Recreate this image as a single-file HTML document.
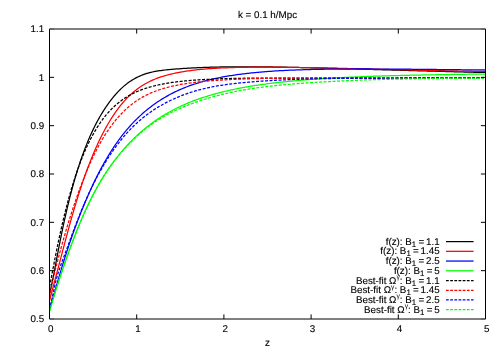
<!DOCTYPE html>
<html><head><meta charset="utf-8"><title>plot</title>
<style>
html,body{margin:0;padding:0;background:#fff;}
body{width:500px;height:350px;overflow:hidden;}
svg{display:block;will-change:transform;}
text{font-family:"Liberation Sans",sans-serif;font-size:9.8px;fill:#000;text-rendering:geometricPrecision;stroke:#000;stroke-width:0.12px;}
.sub{font-size:7.84px;}
.sup{font-size:6.8px;stroke:none;}
</style></head><body>
<svg width="500" height="350" viewBox="0 0 500 350">
<rect width="500" height="350" fill="#fff"/>

<g fill="none" stroke-width="1.25" stroke-linejoin="round">
<path d="M49.50,294.41 L50.09,292.04 L50.68,289.48 L51.28,286.75 L51.87,283.90 L52.46,280.95 L53.05,277.93 L53.65,274.86 L54.24,271.76 L54.83,268.63 L55.42,265.49 L56.02,262.35 L56.61,259.22 L57.20,256.10 L57.79,253.00 L58.39,249.92 L58.98,246.87 L59.57,243.85 L60.16,240.86 L60.76,237.91 L61.35,234.99 L61.94,232.10 L62.53,229.26 L63.13,226.45 L63.72,223.69 L64.31,220.96 L64.90,218.27 L65.50,215.63 L66.09,213.02 L66.68,210.45 L67.27,207.92 L67.87,205.44 L68.46,202.99 L69.05,200.58 L69.64,198.21 L70.24,195.87 L70.83,193.58 L71.42,191.32 L72.01,189.09 L72.61,186.91 L73.20,184.76 L73.79,182.64 L74.38,180.56 L74.97,178.51 L75.57,176.50 L76.16,174.52 L76.75,172.57 L77.34,170.65 L77.94,168.76 L78.53,166.91 L79.12,165.08 L79.71,163.29 L80.31,161.52 L80.90,159.79 L81.49,158.08 L82.08,156.40 L82.68,154.74 L83.27,153.11 L83.86,151.51 L84.45,149.94 L85.05,148.39 L85.64,146.86 L86.23,145.36 L86.82,143.89 L87.42,142.44 L88.01,141.01 L88.60,139.60 L89.19,138.22 L89.79,136.86 L90.38,135.52 L90.97,134.20 L91.56,132.91 L92.16,131.63 L92.75,130.37 L93.34,129.14 L93.93,127.92 L94.53,126.73 L95.12,125.55 L95.71,124.39 L96.30,123.25 L96.89,122.13 L97.49,121.03 L98.08,119.94 L98.67,118.87 L99.26,117.82 L99.86,116.78 L100.45,115.76 L101.04,114.76 L101.63,113.77 L102.23,112.80 L102.82,111.84 L103.41,110.89 L104.00,109.96 L104.60,109.05 L105.19,108.15 L105.78,107.26 L106.37,106.39 L106.97,105.53 L107.56,104.68 L108.15,103.85 L108.74,103.03 L109.34,102.22 L109.93,101.42 L110.52,100.64 L111.11,99.87 L111.71,99.11 L112.30,98.36 L112.89,97.62 L113.48,96.90 L114.08,96.19 L114.67,95.49 L115.26,94.81 L115.85,94.13 L116.45,93.47 L117.04,92.82 L117.63,92.18 L118.22,91.56 L118.82,90.94 L119.41,90.34 L120.00,89.75 L121.41,88.40 L122.82,87.11 L124.23,85.89 L125.64,84.72 L127.06,83.62 L128.47,82.58 L129.88,81.59 L131.29,80.65 L132.70,79.77 L134.11,78.93 L135.52,78.15 L136.93,77.41 L138.35,76.72 L139.76,76.07 L141.17,75.47 L142.58,74.90 L143.99,74.38 L145.40,73.90 L146.81,73.45 L148.22,73.04 L149.64,72.66 L151.05,72.31 L152.46,71.99 L153.87,71.69 L155.28,71.42 L156.69,71.17 L158.10,70.93 L159.51,70.72 L160.92,70.52 L162.34,70.33 L163.75,70.16 L165.16,70.00 L166.57,69.84 L167.98,69.70 L169.39,69.57 L170.80,69.44 L172.21,69.32 L173.63,69.20 L175.04,69.09 L176.45,68.98 L177.86,68.88 L179.27,68.78 L180.68,68.68 L182.09,68.58 L183.50,68.49 L184.92,68.40 L186.33,68.31 L187.74,68.23 L189.15,68.15 L190.56,68.07 L191.97,67.99 L193.38,67.92 L194.79,67.85 L196.20,67.78 L197.62,67.72 L199.03,67.65 L200.44,67.59 L201.85,67.53 L203.26,67.48 L204.67,67.43 L206.08,67.37 L207.49,67.33 L208.91,67.28 L210.32,67.24 L211.73,67.19 L213.14,67.15 L214.55,67.12 L215.96,67.08 L217.37,67.05 L218.78,67.02 L220.19,66.99 L221.61,66.96 L223.02,66.93 L224.43,66.91 L225.84,66.89 L227.25,66.87 L228.66,66.85 L230.07,66.83 L231.48,66.82 L232.90,66.80 L234.31,66.79 L235.72,66.78 L237.13,66.77 L238.54,66.77 L239.95,66.76 L241.36,66.76 L242.77,66.76 L244.19,66.76 L245.60,66.76 L247.01,66.76 L248.42,66.76 L249.83,66.77 L251.24,66.78 L252.65,66.78 L254.06,66.79 L255.47,66.80 L256.89,66.81 L258.30,66.82 L259.71,66.84 L261.12,66.85 L262.53,66.86 L263.94,66.88 L265.35,66.90 L266.76,66.91 L268.18,66.93 L269.59,66.95 L271.00,66.97 L272.41,66.99 L273.82,67.01 L275.23,67.04 L276.64,67.06 L278.05,67.08 L279.47,67.11 L280.88,67.13 L282.29,67.16 L283.70,67.18 L285.11,67.21 L286.52,67.24 L287.93,67.26 L289.34,67.29 L290.75,67.32 L292.17,67.35 L293.58,67.38 L294.99,67.41 L296.40,67.44 L297.81,67.47 L299.22,67.50 L300.63,67.54 L302.04,67.57 L303.46,67.60 L304.87,67.64 L306.28,67.67 L307.69,67.70 L309.10,67.74 L310.51,67.77 L311.92,67.81 L313.33,67.84 L314.75,67.88 L316.16,67.91 L317.57,67.95 L318.98,67.99 L320.39,68.02 L321.80,68.06 L323.21,68.10 L324.62,68.13 L326.03,68.17 L327.45,68.21 L328.86,68.25 L330.27,68.28 L331.68,68.32 L333.09,68.36 L334.50,68.40 L335.91,68.44 L337.32,68.48 L338.74,68.52 L340.15,68.56 L341.56,68.59 L342.97,68.63 L344.38,68.67 L345.79,68.71 L347.20,68.75 L348.61,68.79 L350.03,68.83 L351.44,68.87 L352.85,68.91 L354.26,68.95 L355.67,68.99 L357.08,69.03 L358.49,69.07 L359.90,69.11 L361.31,69.15 L362.73,69.19 L364.14,69.23 L365.55,69.27 L366.96,69.32 L368.37,69.36 L369.78,69.40 L371.19,69.44 L372.60,69.48 L374.02,69.52 L375.43,69.56 L376.84,69.60 L378.25,69.64 L379.66,69.68 L381.07,69.72 L382.48,69.76 L383.89,69.80 L385.31,69.84 L386.72,69.88 L388.13,69.92 L389.54,69.96 L390.95,70.00 L392.36,70.05 L393.77,70.09 L395.18,70.13 L396.59,70.17 L398.01,70.21 L399.42,70.25 L400.83,70.29 L402.24,70.33 L403.65,70.37 L405.06,70.41 L406.47,70.45 L407.88,70.49 L409.30,70.53 L410.71,70.57 L412.12,70.61 L413.53,70.65 L414.94,70.68 L416.35,70.72 L417.76,70.76 L419.17,70.80 L420.58,70.84 L422.00,70.88 L423.41,70.92 L424.82,70.96 L426.23,71.00 L427.64,71.04 L429.05,71.08 L430.46,71.11 L431.87,71.15 L433.29,71.19 L434.70,71.23 L436.11,71.27 L437.52,71.31 L438.93,71.34 L440.34,71.38 L441.75,71.42 L443.16,71.46 L444.58,71.50 L445.99,71.53 L447.40,71.57 L448.81,71.61 L450.22,71.64 L451.63,71.68 L453.04,71.72 L454.45,71.76 L455.86,71.79 L457.28,71.83 L458.69,71.87 L460.10,71.90 L461.51,71.94 L462.92,71.97 L464.33,72.01 L465.74,72.05 L467.15,72.08 L468.57,72.12 L469.98,72.15 L471.39,72.19 L472.80,72.22 L474.21,72.26 L475.62,72.30 L477.03,72.33 L478.44,72.37 L479.86,72.40 L481.27,72.43 L482.68,72.47 L484.09,72.50 L485.50,72.54" stroke="#000"/>
<path d="M49.50,300.95 L50.09,298.69 L50.68,296.43 L51.28,294.19 L51.87,291.94 L52.46,289.70 L53.05,287.45 L53.65,285.21 L54.24,282.96 L54.83,280.71 L55.42,278.47 L56.02,276.22 L56.61,273.96 L57.20,271.71 L57.79,269.46 L58.39,267.20 L58.98,264.95 L59.57,262.69 L60.16,260.43 L60.76,258.18 L61.35,255.92 L61.94,253.67 L62.53,251.41 L63.13,249.16 L63.72,246.91 L64.31,244.66 L64.90,242.42 L65.50,240.18 L66.09,237.96 L66.68,235.74 L67.27,233.54 L67.87,231.34 L68.46,229.16 L69.05,227.00 L69.64,224.85 L70.24,222.72 L70.83,220.60 L71.42,218.51 L72.01,216.42 L72.61,214.36 L73.20,212.32 L73.79,210.29 L74.38,208.28 L74.97,206.29 L75.57,204.32 L76.16,202.37 L76.75,200.44 L77.34,198.53 L77.94,196.63 L78.53,194.76 L79.12,192.90 L79.71,191.06 L80.31,189.24 L80.90,187.44 L81.49,185.66 L82.08,183.90 L82.68,182.15 L83.27,180.42 L83.86,178.72 L84.45,177.02 L85.05,175.35 L85.64,173.70 L86.23,172.06 L86.82,170.44 L87.42,168.84 L88.01,167.26 L88.60,165.70 L89.19,164.15 L89.79,162.63 L90.38,161.12 L90.97,159.63 L91.56,158.15 L92.16,156.70 L92.75,155.26 L93.34,153.84 L93.93,152.44 L94.53,151.06 L95.12,149.69 L95.71,148.34 L96.30,147.01 L96.89,145.69 L97.49,144.39 L98.08,143.11 L98.67,141.84 L99.26,140.59 L99.86,139.36 L100.45,138.14 L101.04,136.94 L101.63,135.76 L102.23,134.59 L102.82,133.44 L103.41,132.30 L104.00,131.17 L104.60,130.07 L105.19,128.97 L105.78,127.90 L106.37,126.83 L106.97,125.78 L107.56,124.75 L108.15,123.73 L108.74,122.73 L109.34,121.73 L109.93,120.76 L110.52,119.79 L111.11,118.84 L111.71,117.91 L112.30,116.99 L112.89,116.08 L113.48,115.18 L114.08,114.30 L114.67,113.43 L115.26,112.57 L115.85,111.73 L116.45,110.90 L117.04,110.08 L117.63,109.28 L118.22,108.49 L118.82,107.71 L119.41,106.94 L120.00,106.19 L121.41,104.44 L122.82,102.75 L124.23,101.14 L125.64,99.59 L127.06,98.10 L128.47,96.67 L129.88,95.30 L131.29,93.99 L132.70,92.74 L134.11,91.54 L135.52,90.40 L136.93,89.30 L138.35,88.26 L139.76,87.26 L141.17,86.32 L142.58,85.41 L143.99,84.55 L145.40,83.73 L146.81,82.95 L148.22,82.21 L149.64,81.51 L151.05,80.83 L152.46,80.19 L153.87,79.58 L155.28,79.00 L156.69,78.45 L158.10,77.93 L159.51,77.42 L160.92,76.94 L162.34,76.49 L163.75,76.05 L165.16,75.63 L166.57,75.24 L167.98,74.86 L169.39,74.49 L170.80,74.15 L172.21,73.81 L173.63,73.49 L175.04,73.19 L176.45,72.90 L177.86,72.62 L179.27,72.35 L180.68,72.09 L182.09,71.84 L183.50,71.61 L184.92,71.38 L186.33,71.17 L187.74,70.96 L189.15,70.76 L190.56,70.57 L191.97,70.39 L193.38,70.21 L194.79,70.05 L196.20,69.89 L197.62,69.74 L199.03,69.59 L200.44,69.45 L201.85,69.32 L203.26,69.19 L204.67,69.07 L206.08,68.96 L207.49,68.84 L208.91,68.74 L210.32,68.64 L211.73,68.54 L213.14,68.45 L214.55,68.37 L215.96,68.28 L217.37,68.21 L218.78,68.13 L220.19,68.06 L221.61,67.99 L223.02,67.93 L224.43,67.87 L225.84,67.81 L227.25,67.76 L228.66,67.70 L230.07,67.66 L231.48,67.61 L232.90,67.57 L234.31,67.53 L235.72,67.49 L237.13,67.45 L238.54,67.42 L239.95,67.39 L241.36,67.36 L242.77,67.33 L244.19,67.31 L245.60,67.29 L247.01,67.27 L248.42,67.25 L249.83,67.23 L251.24,67.22 L252.65,67.20 L254.06,67.19 L255.47,67.18 L256.89,67.18 L258.30,67.17 L259.71,67.16 L261.12,67.16 L262.53,67.16 L263.94,67.16 L265.35,67.16 L266.76,67.16 L268.18,67.16 L269.59,67.17 L271.00,67.17 L272.41,67.18 L273.82,67.19 L275.23,67.20 L276.64,67.21 L278.05,67.22 L279.47,67.23 L280.88,67.24 L282.29,67.26 L283.70,67.27 L285.11,67.29 L286.52,67.30 L287.93,67.32 L289.34,67.34 L290.75,67.36 L292.17,67.38 L293.58,67.40 L294.99,67.42 L296.40,67.44 L297.81,67.46 L299.22,67.48 L300.63,67.50 L302.04,67.53 L303.46,67.55 L304.87,67.58 L306.28,67.60 L307.69,67.63 L309.10,67.65 L310.51,67.68 L311.92,67.71 L313.33,67.74 L314.75,67.76 L316.16,67.79 L317.57,67.82 L318.98,67.85 L320.39,67.88 L321.80,67.91 L323.21,67.94 L324.62,67.97 L326.03,68.00 L327.45,68.03 L328.86,68.06 L330.27,68.09 L331.68,68.12 L333.09,68.16 L334.50,68.19 L335.91,68.22 L337.32,68.25 L338.74,68.28 L340.15,68.32 L341.56,68.35 L342.97,68.38 L344.38,68.42 L345.79,68.45 L347.20,68.48 L348.61,68.52 L350.03,68.55 L351.44,68.58 L352.85,68.62 L354.26,68.65 L355.67,68.69 L357.08,68.72 L358.49,68.75 L359.90,68.79 L361.31,68.82 L362.73,68.86 L364.14,68.89 L365.55,68.92 L366.96,68.96 L368.37,68.99 L369.78,69.03 L371.19,69.06 L372.60,69.10 L374.02,69.13 L375.43,69.16 L376.84,69.20 L378.25,69.23 L379.66,69.27 L381.07,69.30 L382.48,69.33 L383.89,69.37 L385.31,69.40 L386.72,69.44 L388.13,69.47 L389.54,69.50 L390.95,69.54 L392.36,69.57 L393.77,69.60 L395.18,69.64 L396.59,69.67 L398.01,69.70 L399.42,69.74 L400.83,69.77 L402.24,69.80 L403.65,69.84 L405.06,69.87 L406.47,69.90 L407.88,69.93 L409.30,69.97 L410.71,70.00 L412.12,70.03 L413.53,70.06 L414.94,70.09 L416.35,70.13 L417.76,70.16 L419.17,70.19 L420.58,70.22 L422.00,70.25 L423.41,70.28 L424.82,70.31 L426.23,70.34 L427.64,70.38 L429.05,70.41 L430.46,70.44 L431.87,70.47 L433.29,70.50 L434.70,70.53 L436.11,70.56 L437.52,70.59 L438.93,70.61 L440.34,70.64 L441.75,70.67 L443.16,70.70 L444.58,70.73 L445.99,70.76 L447.40,70.79 L448.81,70.82 L450.22,70.84 L451.63,70.87 L453.04,70.90 L454.45,70.93 L455.86,70.95 L457.28,70.98 L458.69,71.01 L460.10,71.03 L461.51,71.06 L462.92,71.09 L464.33,71.11 L465.74,71.14 L467.15,71.17 L468.57,71.19 L469.98,71.22 L471.39,71.24 L472.80,71.27 L474.21,71.29 L475.62,71.32 L477.03,71.34 L478.44,71.36 L479.86,71.39 L481.27,71.41 L482.68,71.44 L484.09,71.46 L485.50,71.48" stroke="#f00"/>
<path d="M49.50,308.99 L50.09,307.20 L50.68,305.34 L51.28,303.42 L51.87,301.47 L52.46,299.48 L53.05,297.47 L53.65,295.44 L54.24,293.40 L54.83,291.35 L55.42,289.30 L56.02,287.25 L56.61,285.20 L57.20,283.16 L57.79,281.12 L58.39,279.09 L58.98,277.07 L59.57,275.07 L60.16,273.07 L60.76,271.09 L61.35,269.12 L61.94,267.17 L62.53,265.23 L63.13,263.30 L63.72,261.39 L64.31,259.50 L64.90,257.62 L65.50,255.76 L66.09,253.91 L66.68,252.08 L67.27,250.26 L67.87,248.46 L68.46,246.68 L69.05,244.91 L69.64,243.15 L70.24,241.42 L70.83,239.69 L71.42,237.98 L72.01,236.29 L72.61,234.61 L73.20,232.94 L73.79,231.29 L74.38,229.66 L74.97,228.04 L75.57,226.43 L76.16,224.83 L76.75,223.25 L77.34,221.68 L77.94,220.13 L78.53,218.59 L79.12,217.06 L79.71,215.54 L80.31,214.04 L80.90,212.55 L81.49,211.07 L82.08,209.60 L82.68,208.15 L83.27,206.70 L83.86,205.27 L84.45,203.85 L85.05,202.44 L85.64,201.04 L86.23,199.65 L86.82,198.28 L87.42,196.91 L88.01,195.55 L88.60,194.21 L89.19,192.87 L89.79,191.55 L90.38,190.24 L90.97,188.94 L91.56,187.65 L92.16,186.37 L92.75,185.10 L93.34,183.84 L93.93,182.60 L94.53,181.36 L95.12,180.14 L95.71,178.93 L96.30,177.73 L96.89,176.54 L97.49,175.36 L98.08,174.19 L98.67,173.04 L99.26,171.89 L99.86,170.76 L100.45,169.64 L101.04,168.52 L101.63,167.42 L102.23,166.33 L102.82,165.25 L103.41,164.19 L104.00,163.13 L104.60,162.08 L105.19,161.04 L105.78,160.02 L106.37,159.00 L106.97,158.00 L107.56,157.00 L108.15,156.01 L108.74,155.04 L109.34,154.07 L109.93,153.12 L110.52,152.17 L111.11,151.24 L111.71,150.31 L112.30,149.40 L112.89,148.49 L113.48,147.59 L114.08,146.70 L114.67,145.83 L115.26,144.96 L115.85,144.10 L116.45,143.25 L117.04,142.40 L117.63,141.57 L118.22,140.75 L118.82,139.93 L119.41,139.13 L120.00,138.33 L121.41,136.46 L122.82,134.64 L124.23,132.87 L125.64,131.15 L127.06,129.47 L128.47,127.83 L129.88,126.23 L131.29,124.68 L132.70,123.16 L134.11,121.68 L135.52,120.25 L136.93,118.84 L138.35,117.48 L139.76,116.14 L141.17,114.84 L142.58,113.58 L143.99,112.34 L145.40,111.14 L146.81,109.97 L148.22,108.83 L149.64,107.71 L151.05,106.63 L152.46,105.57 L153.87,104.54 L155.28,103.53 L156.69,102.55 L158.10,101.60 L159.51,100.67 L160.92,99.76 L162.34,98.88 L163.75,98.02 L165.16,97.19 L166.57,96.37 L167.98,95.58 L169.39,94.80 L170.80,94.05 L172.21,93.32 L173.63,92.61 L175.04,91.91 L176.45,91.24 L177.86,90.58 L179.27,89.94 L180.68,89.32 L182.09,88.72 L183.50,88.13 L184.92,87.56 L186.33,87.00 L187.74,86.47 L189.15,85.94 L190.56,85.43 L191.97,84.94 L193.38,84.46 L194.79,83.99 L196.20,83.54 L197.62,83.10 L199.03,82.67 L200.44,82.25 L201.85,81.85 L203.26,81.45 L204.67,81.07 L206.08,80.70 L207.49,80.34 L208.91,79.99 L210.32,79.64 L211.73,79.31 L213.14,78.99 L214.55,78.67 L215.96,78.37 L217.37,78.07 L218.78,77.78 L220.19,77.50 L221.61,77.23 L223.02,76.96 L224.43,76.70 L225.84,76.45 L227.25,76.21 L228.66,75.97 L230.07,75.74 L231.48,75.51 L232.90,75.30 L234.31,75.08 L235.72,74.88 L237.13,74.68 L238.54,74.48 L239.95,74.29 L241.36,74.11 L242.77,73.93 L244.19,73.76 L245.60,73.59 L247.01,73.43 L248.42,73.27 L249.83,73.11 L251.24,72.96 L252.65,72.82 L254.06,72.68 L255.47,72.54 L256.89,72.40 L258.30,72.27 L259.71,72.15 L261.12,72.03 L262.53,71.91 L263.94,71.79 L265.35,71.68 L266.76,71.57 L268.18,71.47 L269.59,71.37 L271.00,71.27 L272.41,71.18 L273.82,71.08 L275.23,70.99 L276.64,70.91 L278.05,70.82 L279.47,70.74 L280.88,70.66 L282.29,70.59 L283.70,70.51 L285.11,70.44 L286.52,70.37 L287.93,70.31 L289.34,70.24 L290.75,70.18 L292.17,70.12 L293.58,70.06 L294.99,70.01 L296.40,69.95 L297.81,69.90 L299.22,69.85 L300.63,69.80 L302.04,69.76 L303.46,69.71 L304.87,69.67 L306.28,69.63 L307.69,69.59 L309.10,69.55 L310.51,69.52 L311.92,69.48 L313.33,69.45 L314.75,69.42 L316.16,69.39 L317.57,69.36 L318.98,69.33 L320.39,69.30 L321.80,69.28 L323.21,69.26 L324.62,69.23 L326.03,69.21 L327.45,69.19 L328.86,69.17 L330.27,69.15 L331.68,69.14 L333.09,69.12 L334.50,69.11 L335.91,69.09 L337.32,69.08 L338.74,69.07 L340.15,69.05 L341.56,69.04 L342.97,69.03 L344.38,69.03 L345.79,69.02 L347.20,69.01 L348.61,69.01 L350.03,69.00 L351.44,68.99 L352.85,68.99 L354.26,68.99 L355.67,68.98 L357.08,68.98 L358.49,68.98 L359.90,68.98 L361.31,68.98 L362.73,68.98 L364.14,68.98 L365.55,68.98 L366.96,68.99 L368.37,68.99 L369.78,68.99 L371.19,68.99 L372.60,69.00 L374.02,69.00 L375.43,69.01 L376.84,69.01 L378.25,69.02 L379.66,69.03 L381.07,69.03 L382.48,69.04 L383.89,69.05 L385.31,69.05 L386.72,69.06 L388.13,69.07 L389.54,69.08 L390.95,69.09 L392.36,69.10 L393.77,69.11 L395.18,69.12 L396.59,69.13 L398.01,69.14 L399.42,69.15 L400.83,69.16 L402.24,69.17 L403.65,69.18 L405.06,69.19 L406.47,69.21 L407.88,69.22 L409.30,69.23 L410.71,69.24 L412.12,69.26 L413.53,69.27 L414.94,69.28 L416.35,69.29 L417.76,69.31 L419.17,69.32 L420.58,69.33 L422.00,69.35 L423.41,69.36 L424.82,69.37 L426.23,69.39 L427.64,69.40 L429.05,69.42 L430.46,69.43 L431.87,69.44 L433.29,69.46 L434.70,69.47 L436.11,69.49 L437.52,69.50 L438.93,69.52 L440.34,69.53 L441.75,69.55 L443.16,69.56 L444.58,69.57 L445.99,69.59 L447.40,69.60 L448.81,69.62 L450.22,69.63 L451.63,69.65 L453.04,69.66 L454.45,69.68 L455.86,69.69 L457.28,69.70 L458.69,69.72 L460.10,69.73 L461.51,69.75 L462.92,69.76 L464.33,69.78 L465.74,69.79 L467.15,69.81 L468.57,69.82 L469.98,69.83 L471.39,69.85 L472.80,69.86 L474.21,69.88 L475.62,69.89 L477.03,69.90 L478.44,69.92 L479.86,69.93 L481.27,69.94 L482.68,69.96 L484.09,69.97 L485.50,69.98" stroke="#00f"/>
<path d="M49.50,311.40 L50.09,309.34 L50.68,307.30 L51.28,305.27 L51.87,303.27 L52.46,301.28 L53.05,299.31 L53.65,297.35 L54.24,295.41 L54.83,293.49 L55.42,291.58 L56.02,289.68 L56.61,287.80 L57.20,285.94 L57.79,284.08 L58.39,282.24 L58.98,280.42 L59.57,278.60 L60.16,276.80 L60.76,275.01 L61.35,273.23 L61.94,271.47 L62.53,269.71 L63.13,267.97 L63.72,266.23 L64.31,264.51 L64.90,262.80 L65.50,261.10 L66.09,259.41 L66.68,257.73 L67.27,256.06 L67.87,254.40 L68.46,252.75 L69.05,251.11 L69.64,249.48 L70.24,247.86 L70.83,246.24 L71.42,244.64 L72.01,243.05 L72.61,241.48 L73.20,239.91 L73.79,238.36 L74.38,236.81 L74.97,235.28 L75.57,233.77 L76.16,232.27 L76.75,230.78 L77.34,229.30 L77.94,227.84 L78.53,226.39 L79.12,224.95 L79.71,223.53 L80.31,222.12 L80.90,220.72 L81.49,219.34 L82.08,217.97 L82.68,216.61 L83.27,215.27 L83.86,213.94 L84.45,212.62 L85.05,211.32 L85.64,210.03 L86.23,208.75 L86.82,207.49 L87.42,206.23 L88.01,204.99 L88.60,203.77 L89.19,202.55 L89.79,201.35 L90.38,200.16 L90.97,198.98 L91.56,197.81 L92.16,196.66 L92.75,195.52 L93.34,194.38 L93.93,193.26 L94.53,192.16 L95.12,191.06 L95.71,189.97 L96.30,188.90 L96.89,187.83 L97.49,186.78 L98.08,185.73 L98.67,184.70 L99.26,183.68 L99.86,182.67 L100.45,181.67 L101.04,180.67 L101.63,179.69 L102.23,178.72 L102.82,177.76 L103.41,176.81 L104.00,175.86 L104.60,174.93 L105.19,174.00 L105.78,173.09 L106.37,172.18 L106.97,171.29 L107.56,170.40 L108.15,169.52 L108.74,168.65 L109.34,167.79 L109.93,166.93 L110.52,166.09 L111.11,165.25 L111.71,164.42 L112.30,163.60 L112.89,162.79 L113.48,161.99 L114.08,161.19 L114.67,160.40 L115.26,159.62 L115.85,158.85 L116.45,158.08 L117.04,157.32 L117.63,156.57 L118.22,155.83 L118.82,155.09 L119.41,154.36 L120.00,153.64 L121.41,151.94 L122.82,150.28 L124.23,148.66 L125.64,147.08 L127.06,145.53 L128.47,144.02 L129.88,142.53 L131.29,141.08 L132.70,139.67 L134.11,138.28 L135.52,136.92 L136.93,135.59 L138.35,134.30 L139.76,133.03 L141.17,131.79 L142.58,130.57 L143.99,129.38 L145.40,128.22 L146.81,127.09 L148.22,125.98 L149.64,124.89 L151.05,123.83 L152.46,122.79 L153.87,121.78 L155.28,120.79 L156.69,119.82 L158.10,118.87 L159.51,117.94 L160.92,117.04 L162.34,116.15 L163.75,115.29 L165.16,114.44 L166.57,113.61 L167.98,112.80 L169.39,112.01 L170.80,111.24 L172.21,110.48 L173.63,109.74 L175.04,109.02 L176.45,108.31 L177.86,107.62 L179.27,106.94 L180.68,106.27 L182.09,105.63 L183.50,104.99 L184.92,104.37 L186.33,103.76 L187.74,103.17 L189.15,102.59 L190.56,102.02 L191.97,101.46 L193.38,100.92 L194.79,100.39 L196.20,99.87 L197.62,99.36 L199.03,98.86 L200.44,98.37 L201.85,97.90 L203.26,97.43 L204.67,96.97 L206.08,96.53 L207.49,96.09 L208.91,95.66 L210.32,95.24 L211.73,94.83 L213.14,94.43 L214.55,94.03 L215.96,93.65 L217.37,93.27 L218.78,92.90 L220.19,92.54 L221.61,92.18 L223.02,91.83 L224.43,91.49 L225.84,91.16 L227.25,90.83 L228.66,90.51 L230.07,90.20 L231.48,89.89 L232.90,89.59 L234.31,89.29 L235.72,89.00 L237.13,88.72 L238.54,88.44 L239.95,88.16 L241.36,87.90 L242.77,87.63 L244.19,87.37 L245.60,87.12 L247.01,86.87 L248.42,86.63 L249.83,86.39 L251.24,86.16 L252.65,85.93 L254.06,85.71 L255.47,85.49 L256.89,85.27 L258.30,85.06 L259.71,84.85 L261.12,84.65 L262.53,84.45 L263.94,84.25 L265.35,84.06 L266.76,83.87 L268.18,83.68 L269.59,83.50 L271.00,83.32 L272.41,83.15 L273.82,82.97 L275.23,82.81 L276.64,82.64 L278.05,82.48 L279.47,82.32 L280.88,82.16 L282.29,82.01 L283.70,81.86 L285.11,81.71 L286.52,81.57 L287.93,81.43 L289.34,81.29 L290.75,81.15 L292.17,81.02 L293.58,80.88 L294.99,80.75 L296.40,80.63 L297.81,80.50 L299.22,80.38 L300.63,80.26 L302.04,80.14 L303.46,80.03 L304.87,79.91 L306.28,79.80 L307.69,79.69 L309.10,79.59 L310.51,79.48 L311.92,79.38 L313.33,79.28 L314.75,79.18 L316.16,79.08 L317.57,78.98 L318.98,78.89 L320.39,78.79 L321.80,78.70 L323.21,78.61 L324.62,78.53 L326.03,78.44 L327.45,78.35 L328.86,78.27 L330.27,78.19 L331.68,78.11 L333.09,78.03 L334.50,77.95 L335.91,77.88 L337.32,77.80 L338.74,77.73 L340.15,77.65 L341.56,77.58 L342.97,77.51 L344.38,77.44 L345.79,77.38 L347.20,77.31 L348.61,77.25 L350.03,77.18 L351.44,77.12 L352.85,77.06 L354.26,77.00 L355.67,76.94 L357.08,76.88 L358.49,76.82 L359.90,76.76 L361.31,76.71 L362.73,76.65 L364.14,76.60 L365.55,76.55 L366.96,76.49 L368.37,76.44 L369.78,76.39 L371.19,76.34 L372.60,76.29 L374.02,76.24 L375.43,76.20 L376.84,76.15 L378.25,76.11 L379.66,76.06 L381.07,76.02 L382.48,75.97 L383.89,75.93 L385.31,75.89 L386.72,75.85 L388.13,75.81 L389.54,75.76 L390.95,75.73 L392.36,75.69 L393.77,75.65 L395.18,75.61 L396.59,75.57 L398.01,75.54 L399.42,75.50 L400.83,75.47 L402.24,75.43 L403.65,75.40 L405.06,75.36 L406.47,75.33 L407.88,75.30 L409.30,75.26 L410.71,75.23 L412.12,75.20 L413.53,75.17 L414.94,75.14 L416.35,75.11 L417.76,75.08 L419.17,75.05 L420.58,75.02 L422.00,74.99 L423.41,74.96 L424.82,74.94 L426.23,74.91 L427.64,74.88 L429.05,74.86 L430.46,74.83 L431.87,74.80 L433.29,74.78 L434.70,74.75 L436.11,74.73 L437.52,74.70 L438.93,74.68 L440.34,74.66 L441.75,74.63 L443.16,74.61 L444.58,74.59 L445.99,74.56 L447.40,74.54 L448.81,74.52 L450.22,74.50 L451.63,74.48 L453.04,74.46 L454.45,74.43 L455.86,74.41 L457.28,74.39 L458.69,74.37 L460.10,74.35 L461.51,74.33 L462.92,74.31 L464.33,74.29 L465.74,74.27 L467.15,74.25 L468.57,74.24 L469.98,74.22 L471.39,74.20 L472.80,74.18 L474.21,74.16 L475.62,74.14 L477.03,74.13 L478.44,74.11 L479.86,74.09 L481.27,74.07 L482.68,74.06 L484.09,74.04 L485.50,74.02" stroke="#0f0"/>
<path d="M485.50,77.68 L484.09,77.70 L482.68,77.71 L481.27,77.73 L479.86,77.74 L478.44,77.76 L477.03,77.77 L475.62,77.79 L474.21,77.80 L472.80,77.82 L471.39,77.83 L469.98,77.85 L468.57,77.86 L467.15,77.87 L465.74,77.89 L464.33,77.90 L462.92,77.91 L461.51,77.92 L460.10,77.94 L458.69,77.95 L457.28,77.96 L455.86,77.97 L454.45,77.98 L453.04,77.99 L451.63,78.00 L450.22,78.02 L448.81,78.03 L447.40,78.04 L445.99,78.05 L444.58,78.06 L443.16,78.06 L441.75,78.07 L440.34,78.08 L438.93,78.09 L437.52,78.10 L436.11,78.11 L434.70,78.12 L433.29,78.12 L431.87,78.13 L430.46,78.14 L429.05,78.15 L427.64,78.15 L426.23,78.16 L424.82,78.17 L423.41,78.17 L422.00,78.18 L420.58,78.18 L419.17,78.19 L417.76,78.19 L416.35,78.20 L414.94,78.20 L413.53,78.21 L412.12,78.21 L410.71,78.22 L409.30,78.22 L407.88,78.22 L406.47,78.23 L405.06,78.23 L403.65,78.23 L402.24,78.24 L400.83,78.24 L399.42,78.24 L398.01,78.24 L396.59,78.24 L395.18,78.25 L393.77,78.25 L392.36,78.25 L390.95,78.25 L389.54,78.25 L388.13,78.25 L386.72,78.25 L385.31,78.25 L383.89,78.25 L382.48,78.25 L381.07,78.25 L379.66,78.25 L378.25,78.25 L376.84,78.25 L375.43,78.25 L374.02,78.25 L372.60,78.25 L371.19,78.24 L369.78,78.24 L368.37,78.24 L366.96,78.24 L365.55,78.24 L364.14,78.23 L362.73,78.23 L361.31,78.23 L359.90,78.23 L358.49,78.22 L357.08,78.22 L355.67,78.22 L354.26,78.21 L352.85,78.21 L351.44,78.20 L350.03,78.20 L348.61,78.20 L347.20,78.19 L345.79,78.19 L344.38,78.18 L342.97,78.18 L341.56,78.18 L340.15,78.17 L338.74,78.17 L337.32,78.16 L335.91,78.16 L334.50,78.15 L333.09,78.15 L331.68,78.14 L330.27,78.14 L328.86,78.13 L327.45,78.13 L326.03,78.12 L324.62,78.12 L323.21,78.11 L321.80,78.11 L320.39,78.10 L318.98,78.10 L317.57,78.09 L316.16,78.09 L314.75,78.08 L313.33,78.08 L311.92,78.07 L310.51,78.07 L309.10,78.07 L307.69,78.06 L306.28,78.06 L304.87,78.05 L303.46,78.05 L302.04,78.04 L300.63,78.04 L299.22,78.04 L297.81,78.03 L296.40,78.03 L294.99,78.03 L293.58,78.02 L292.17,78.02 L290.75,78.02 L289.34,78.02 L287.93,78.02 L286.52,78.02 L285.11,78.01 L283.70,78.01 L282.29,78.01 L280.88,78.01 L279.47,78.01 L278.05,78.02 L276.64,78.02 L275.23,78.02 L273.82,78.02 L272.41,78.02 L271.00,78.03 L269.59,78.03 L268.18,78.04 L266.76,78.04 L265.35,78.05 L263.94,78.05 L262.53,78.06 L261.12,78.07 L259.71,78.08 L258.30,78.09 L256.89,78.10 L255.47,78.11 L254.06,78.12 L252.65,78.13 L251.24,78.15 L249.83,78.16 L248.42,78.18 L247.01,78.20 L245.60,78.21 L244.19,78.23 L242.77,78.25 L241.36,78.28 L239.95,78.30 L238.54,78.32 L237.13,78.35 L235.72,78.38 L234.31,78.41 L232.90,78.44 L231.48,78.47 L230.07,78.50 L228.66,78.54 L227.25,78.57 L225.84,78.61 L224.43,78.65 L223.02,78.70 L221.61,78.74 L220.19,78.79 L218.78,78.84 L217.37,78.89 L215.96,78.95 L214.55,79.00 L213.14,79.06 L211.73,79.12 L210.32,79.19 L208.91,79.26 L207.49,79.33 L206.08,79.40 L204.67,79.48 L203.26,79.56 L201.85,79.64 L200.44,79.73 L199.03,79.82 L197.62,79.92 L196.20,80.02 L194.79,80.12 L193.38,80.23 L191.97,80.34 L190.56,80.45 L189.15,80.57 L187.74,80.70 L186.33,80.83 L184.92,80.97 L183.50,81.11 L182.09,81.26 L180.68,81.41 L179.27,81.57 L177.86,81.74 L176.45,81.91 L175.04,82.09 L173.63,82.28 L172.21,82.48 L170.80,82.69 L169.39,82.90 L167.98,83.13 L166.57,83.36 L165.16,83.60 L163.75,83.86 L162.34,84.12 L160.92,84.40 L159.51,84.69 L158.10,85.00 L156.69,85.31 L155.28,85.64 L153.87,85.99 L152.46,86.35 L151.05,86.73 L149.64,87.13 L148.22,87.54 L146.81,87.98 L145.40,88.43 L143.99,88.90 L142.58,89.40 L141.17,89.92 L139.76,90.47 L138.35,91.04 L136.93,91.64 L135.52,92.27 L134.11,92.93 L132.70,93.62 L131.29,94.34 L129.88,95.10 L128.47,95.90 L127.06,96.73 L125.64,97.61 L124.23,98.53 L122.82,99.49 L121.41,100.50 L120.00,101.56 L119.41,102.01 L118.82,102.48 L118.22,102.96 L117.63,103.44 L117.04,103.94 L116.45,104.45 L115.85,104.96 L115.26,105.49 L114.67,106.02 L114.08,106.57 L113.48,107.12 L112.89,107.69 L112.30,108.27 L111.71,108.86 L111.11,109.46 L110.52,110.07 L109.93,110.70 L109.34,111.34 L108.74,111.99 L108.15,112.65 L107.56,113.32 L106.97,114.01 L106.37,114.71 L105.78,115.43 L105.19,116.16 L104.60,116.90 L104.00,117.65 L103.41,118.42 L102.82,119.21 L102.23,120.01 L101.63,120.82 L101.04,121.65 L100.45,122.50 L99.86,123.36 L99.26,124.23 L98.67,125.13 L98.08,126.04 L97.49,126.96 L96.89,127.90 L96.30,128.86 L95.71,129.84 L95.12,130.83 L94.53,131.85 L93.93,132.88 L93.34,133.93 L92.75,134.99 L92.16,136.08 L91.56,137.19 L90.97,138.32 L90.38,139.46 L89.79,140.63 L89.19,141.82 L88.60,143.03 L88.01,144.26 L87.42,145.51 L86.82,146.79 L86.23,148.09 L85.64,149.41 L85.05,150.75 L84.45,152.12 L83.86,153.51 L83.27,154.93 L82.68,156.37 L82.08,157.84 L81.49,159.33 L80.90,160.85 L80.31,162.39 L79.71,163.97 L79.12,165.57 L78.53,167.19 L77.94,168.85 L77.34,170.53 L76.75,172.24 L76.16,173.98 L75.57,175.75 L74.97,177.55 L74.38,179.38 L73.79,181.25 L73.20,183.14 L72.61,185.06 L72.01,187.02 L71.42,189.00 L70.83,191.02 L70.24,193.08 L69.64,195.16 L69.05,197.28 L68.46,199.43 L67.87,201.61 L67.27,203.83 L66.68,206.08 L66.09,208.37 L65.50,210.69 L64.90,213.05 L64.31,215.45 L63.72,217.89 L63.13,220.37 L62.53,222.88 L61.94,225.44 L61.35,228.03 L60.76,230.67 L60.16,233.35 L59.57,236.06 L58.98,238.82 L58.39,241.62 L57.79,244.46 L57.20,247.34 L56.61,250.26 L56.02,253.22 L55.42,256.21 L54.83,259.24 L54.24,262.30 L53.65,265.38 L53.05,268.49 L52.46,271.62 L51.87,274.76 L51.28,277.89 L50.68,281.02 L50.09,284.12 L49.50,287.18" stroke="#000" stroke-dasharray="3.0 1.5" stroke-dashoffset="3.0"/>
<path d="M485.50,77.83 L484.09,77.84 L482.68,77.84 L481.27,77.85 L479.86,77.86 L478.44,77.87 L477.03,77.88 L475.62,77.89 L474.21,77.89 L472.80,77.90 L471.39,77.91 L469.98,77.92 L468.57,77.92 L467.15,77.93 L465.74,77.94 L464.33,77.94 L462.92,77.95 L461.51,77.96 L460.10,77.96 L458.69,77.97 L457.28,77.97 L455.86,77.98 L454.45,77.99 L453.04,77.99 L451.63,78.00 L450.22,78.00 L448.81,78.00 L447.40,78.01 L445.99,78.01 L444.58,78.02 L443.16,78.02 L441.75,78.02 L440.34,78.03 L438.93,78.03 L437.52,78.03 L436.11,78.04 L434.70,78.04 L433.29,78.04 L431.87,78.05 L430.46,78.05 L429.05,78.05 L427.64,78.05 L426.23,78.05 L424.82,78.06 L423.41,78.06 L422.00,78.06 L420.58,78.06 L419.17,78.06 L417.76,78.06 L416.35,78.06 L414.94,78.06 L413.53,78.06 L412.12,78.07 L410.71,78.07 L409.30,78.07 L407.88,78.07 L406.47,78.07 L405.06,78.07 L403.65,78.06 L402.24,78.06 L400.83,78.06 L399.42,78.06 L398.01,78.06 L396.59,78.06 L395.18,78.06 L393.77,78.06 L392.36,78.06 L390.95,78.06 L389.54,78.06 L388.13,78.05 L386.72,78.05 L385.31,78.05 L383.89,78.05 L382.48,78.05 L381.07,78.05 L379.66,78.04 L378.25,78.04 L376.84,78.04 L375.43,78.04 L374.02,78.04 L372.60,78.03 L371.19,78.03 L369.78,78.03 L368.37,78.03 L366.96,78.02 L365.55,78.02 L364.14,78.02 L362.73,78.02 L361.31,78.02 L359.90,78.01 L358.49,78.01 L357.08,78.01 L355.67,78.01 L354.26,78.00 L352.85,78.00 L351.44,78.00 L350.03,78.00 L348.61,78.00 L347.20,77.99 L345.79,77.99 L344.38,77.99 L342.97,77.99 L341.56,77.99 L340.15,77.99 L338.74,77.98 L337.32,77.98 L335.91,77.98 L334.50,77.98 L333.09,77.98 L331.68,77.98 L330.27,77.98 L328.86,77.98 L327.45,77.98 L326.03,77.98 L324.62,77.98 L323.21,77.98 L321.80,77.98 L320.39,77.98 L318.98,77.98 L317.57,77.98 L316.16,77.99 L314.75,77.99 L313.33,77.99 L311.92,77.99 L310.51,78.00 L309.10,78.00 L307.69,78.01 L306.28,78.01 L304.87,78.02 L303.46,78.02 L302.04,78.03 L300.63,78.03 L299.22,78.04 L297.81,78.05 L296.40,78.05 L294.99,78.06 L293.58,78.07 L292.17,78.08 L290.75,78.09 L289.34,78.10 L287.93,78.11 L286.52,78.13 L285.11,78.14 L283.70,78.15 L282.29,78.17 L280.88,78.18 L279.47,78.20 L278.05,78.21 L276.64,78.23 L275.23,78.25 L273.82,78.27 L272.41,78.29 L271.00,78.31 L269.59,78.33 L268.18,78.36 L266.76,78.38 L265.35,78.41 L263.94,78.43 L262.53,78.46 L261.12,78.49 L259.71,78.52 L258.30,78.55 L256.89,78.59 L255.47,78.62 L254.06,78.66 L252.65,78.70 L251.24,78.74 L249.83,78.78 L248.42,78.82 L247.01,78.86 L245.60,78.91 L244.19,78.96 L242.77,79.01 L241.36,79.06 L239.95,79.11 L238.54,79.17 L237.13,79.23 L235.72,79.29 L234.31,79.35 L232.90,79.41 L231.48,79.48 L230.07,79.55 L228.66,79.62 L227.25,79.70 L225.84,79.78 L224.43,79.86 L223.02,79.94 L221.61,80.03 L220.19,80.12 L218.78,80.21 L217.37,80.30 L215.96,80.40 L214.55,80.51 L213.14,80.61 L211.73,80.72 L210.32,80.84 L208.91,80.96 L207.49,81.08 L206.08,81.21 L204.67,81.34 L203.26,81.47 L201.85,81.61 L200.44,81.76 L199.03,81.91 L197.62,82.07 L196.20,82.23 L194.79,82.40 L193.38,82.57 L191.97,82.76 L190.56,82.94 L189.15,83.14 L187.74,83.34 L186.33,83.56 L184.92,83.78 L183.50,84.01 L182.09,84.24 L180.68,84.49 L179.27,84.75 L177.86,85.02 L176.45,85.30 L175.04,85.59 L173.63,85.89 L172.21,86.21 L170.80,86.54 L169.39,86.88 L167.98,87.24 L166.57,87.61 L165.16,88.00 L163.75,88.41 L162.34,88.83 L160.92,89.27 L159.51,89.73 L158.10,90.21 L156.69,90.71 L155.28,91.23 L153.87,91.78 L152.46,92.35 L151.05,92.94 L149.64,93.57 L148.22,94.21 L146.81,94.89 L145.40,95.60 L143.99,96.34 L142.58,97.12 L141.17,97.93 L139.76,98.78 L138.35,99.66 L136.93,100.59 L135.52,101.56 L134.11,102.57 L132.70,103.62 L131.29,104.72 L129.88,105.86 L128.47,107.05 L127.06,108.28 L125.64,109.57 L124.23,110.91 L122.82,112.30 L121.41,113.74 L120.00,115.24 L119.41,115.88 L118.82,116.54 L118.22,117.20 L117.63,117.88 L117.04,118.57 L116.45,119.26 L115.85,119.97 L115.26,120.69 L114.67,121.42 L114.08,122.16 L113.48,122.91 L112.89,123.67 L112.30,124.45 L111.71,125.24 L111.11,126.03 L110.52,126.84 L109.93,127.67 L109.34,128.50 L108.74,129.35 L108.15,130.21 L107.56,131.08 L106.97,131.97 L106.37,132.86 L105.78,133.78 L105.19,134.70 L104.60,135.64 L104.00,136.59 L103.41,137.56 L102.82,138.53 L102.23,139.53 L101.63,140.54 L101.04,141.56 L100.45,142.60 L99.86,143.65 L99.26,144.72 L98.67,145.80 L98.08,146.90 L97.49,148.01 L96.89,149.14 L96.30,150.29 L95.71,151.45 L95.12,152.62 L94.53,153.82 L93.93,155.03 L93.34,156.25 L92.75,157.49 L92.16,158.75 L91.56,160.03 L90.97,161.32 L90.38,162.63 L89.79,163.95 L89.19,165.30 L88.60,166.66 L88.01,168.03 L87.42,169.42 L86.82,170.83 L86.23,172.26 L85.64,173.71 L85.05,175.17 L84.45,176.64 L83.86,178.14 L83.27,179.65 L82.68,181.18 L82.08,182.72 L81.49,184.28 L80.90,185.85 L80.31,187.45 L79.71,189.05 L79.12,190.67 L78.53,192.31 L77.94,193.96 L77.34,195.63 L76.75,197.30 L76.16,198.99 L75.57,200.70 L74.97,202.42 L74.38,204.15 L73.79,205.90 L73.20,207.66 L72.61,209.44 L72.01,211.24 L71.42,213.05 L70.83,214.89 L70.24,216.74 L69.64,218.62 L69.05,220.52 L68.46,222.44 L67.87,224.38 L67.27,226.34 L66.68,228.32 L66.09,230.32 L65.50,232.34 L64.90,234.39 L64.31,236.45 L63.72,238.52 L63.13,240.62 L62.53,242.73 L61.94,244.85 L61.35,246.99 L60.76,249.14 L60.16,251.30 L59.57,253.47 L58.98,255.65 L58.39,257.86 L57.79,260.09 L57.20,262.34 L56.61,264.63 L56.02,266.96 L55.42,269.34 L54.83,271.78 L54.24,274.28 L53.65,276.86 L53.05,279.54 L52.46,282.33 L51.87,285.25 L51.28,288.32 L50.68,291.59 L50.09,295.08 L49.50,298.83" stroke="#f00" stroke-dasharray="3.0 1.5" stroke-dashoffset="3.0"/>
<path d="M485.50,77.88 L484.09,77.88 L482.68,77.88 L481.27,77.89 L479.86,77.89 L478.44,77.89 L477.03,77.89 L475.62,77.90 L474.21,77.90 L472.80,77.90 L471.39,77.90 L469.98,77.90 L468.57,77.90 L467.15,77.91 L465.74,77.91 L464.33,77.91 L462.92,77.91 L461.51,77.91 L460.10,77.91 L458.69,77.92 L457.28,77.92 L455.86,77.92 L454.45,77.92 L453.04,77.92 L451.63,77.92 L450.22,77.92 L448.81,77.92 L447.40,77.93 L445.99,77.93 L444.58,77.93 L443.16,77.93 L441.75,77.93 L440.34,77.93 L438.93,77.93 L437.52,77.94 L436.11,77.94 L434.70,77.94 L433.29,77.94 L431.87,77.94 L430.46,77.94 L429.05,77.94 L427.64,77.95 L426.23,77.95 L424.82,77.95 L423.41,77.95 L422.00,77.95 L420.58,77.95 L419.17,77.96 L417.76,77.96 L416.35,77.96 L414.94,77.96 L413.53,77.96 L412.12,77.97 L410.71,77.97 L409.30,77.97 L407.88,77.98 L406.47,77.98 L405.06,77.98 L403.65,77.98 L402.24,77.99 L400.83,77.99 L399.42,77.99 L398.01,78.00 L396.59,78.00 L395.18,78.01 L393.77,78.01 L392.36,78.01 L390.95,78.02 L389.54,78.02 L388.13,78.03 L386.72,78.03 L385.31,78.04 L383.89,78.05 L382.48,78.05 L381.07,78.06 L379.66,78.06 L378.25,78.07 L376.84,78.08 L375.43,78.09 L374.02,78.09 L372.60,78.10 L371.19,78.11 L369.78,78.12 L368.37,78.13 L366.96,78.14 L365.55,78.15 L364.14,78.16 L362.73,78.17 L361.31,78.18 L359.90,78.19 L358.49,78.20 L357.08,78.21 L355.67,78.23 L354.26,78.24 L352.85,78.25 L351.44,78.27 L350.03,78.28 L348.61,78.30 L347.20,78.31 L345.79,78.33 L344.38,78.35 L342.97,78.36 L341.56,78.38 L340.15,78.40 L338.74,78.42 L337.32,78.44 L335.91,78.46 L334.50,78.48 L333.09,78.50 L331.68,78.52 L330.27,78.55 L328.86,78.57 L327.45,78.60 L326.03,78.62 L324.62,78.65 L323.21,78.68 L321.80,78.70 L320.39,78.73 L318.98,78.76 L317.57,78.79 L316.16,78.83 L314.75,78.86 L313.33,78.89 L311.92,78.93 L310.51,78.96 L309.10,79.00 L307.69,79.04 L306.28,79.08 L304.87,79.12 L303.46,79.16 L302.04,79.20 L300.63,79.25 L299.22,79.29 L297.81,79.34 L296.40,79.39 L294.99,79.44 L293.58,79.49 L292.17,79.54 L290.75,79.59 L289.34,79.65 L287.93,79.71 L286.52,79.76 L285.11,79.82 L283.70,79.89 L282.29,79.95 L280.88,80.02 L279.47,80.08 L278.05,80.15 L276.64,80.22 L275.23,80.30 L273.82,80.37 L272.41,80.45 L271.00,80.53 L269.59,80.61 L268.18,80.69 L266.76,80.78 L265.35,80.87 L263.94,80.96 L262.53,81.05 L261.12,81.15 L259.71,81.25 L258.30,81.35 L256.89,81.45 L255.47,81.56 L254.06,81.67 L252.65,81.78 L251.24,81.90 L249.83,82.02 L248.42,82.14 L247.01,82.27 L245.60,82.40 L244.19,82.53 L242.77,82.66 L241.36,82.80 L239.95,82.95 L238.54,83.10 L237.13,83.25 L235.72,83.41 L234.31,83.57 L232.90,83.73 L231.48,83.91 L230.07,84.08 L228.66,84.27 L227.25,84.46 L225.84,84.65 L224.43,84.85 L223.02,85.06 L221.61,85.27 L220.19,85.50 L218.78,85.73 L217.37,85.96 L215.96,86.21 L214.55,86.46 L213.14,86.73 L211.73,87.00 L210.32,87.28 L208.91,87.57 L207.49,87.87 L206.08,88.19 L204.67,88.51 L203.26,88.85 L201.85,89.20 L200.44,89.56 L199.03,89.93 L197.62,90.31 L196.20,90.71 L194.79,91.12 L193.38,91.54 L191.97,91.98 L190.56,92.43 L189.15,92.89 L187.74,93.37 L186.33,93.86 L184.92,94.37 L183.50,94.89 L182.09,95.43 L180.68,95.98 L179.27,96.55 L177.86,97.13 L176.45,97.73 L175.04,98.35 L173.63,98.98 L172.21,99.63 L170.80,100.30 L169.39,100.98 L167.98,101.68 L166.57,102.41 L165.16,103.15 L163.75,103.90 L162.34,104.68 L160.92,105.48 L159.51,106.30 L158.10,107.15 L156.69,108.01 L155.28,108.90 L153.87,109.81 L152.46,110.74 L151.05,111.70 L149.64,112.69 L148.22,113.70 L146.81,114.75 L145.40,115.82 L143.99,116.92 L142.58,118.05 L141.17,119.21 L139.76,120.41 L138.35,121.64 L136.93,122.91 L135.52,124.21 L134.11,125.55 L132.70,126.94 L131.29,128.36 L129.88,129.82 L128.47,131.32 L127.06,132.87 L125.64,134.46 L124.23,136.09 L122.82,137.76 L121.41,139.48 L120.00,141.24 L119.41,141.99 L118.82,142.76 L118.22,143.52 L117.63,144.30 L117.04,145.09 L116.45,145.88 L115.85,146.68 L115.26,147.49 L114.67,148.31 L114.08,149.13 L113.48,149.97 L112.89,150.81 L112.30,151.66 L111.71,152.52 L111.11,153.39 L110.52,154.27 L109.93,155.16 L109.34,156.06 L108.74,156.96 L108.15,157.88 L107.56,158.80 L106.97,159.73 L106.37,160.68 L105.78,161.63 L105.19,162.60 L104.60,163.57 L104.00,164.55 L103.41,165.55 L102.82,166.55 L102.23,167.57 L101.63,168.59 L101.04,169.63 L100.45,170.67 L99.86,171.73 L99.26,172.80 L98.67,173.88 L98.08,174.97 L97.49,176.07 L96.89,177.19 L96.30,178.31 L95.71,179.45 L95.12,180.60 L94.53,181.76 L93.93,182.93 L93.34,184.11 L92.75,185.31 L92.16,186.51 L91.56,187.73 L90.97,188.97 L90.38,190.21 L89.79,191.47 L89.19,192.73 L88.60,194.02 L88.01,195.31 L87.42,196.62 L86.82,197.93 L86.23,199.26 L85.64,200.61 L85.05,201.96 L84.45,203.33 L83.86,204.71 L83.27,206.11 L82.68,207.52 L82.08,208.93 L81.49,210.36 L80.90,211.81 L80.31,213.26 L79.71,214.73 L79.12,216.21 L78.53,217.70 L77.94,219.20 L77.34,220.72 L76.75,222.24 L76.16,223.78 L75.57,225.32 L74.97,226.88 L74.38,228.44 L73.79,230.01 L73.20,231.59 L72.61,233.18 L72.01,234.77 L71.42,236.38 L70.83,237.98 L70.24,239.59 L69.64,241.20 L69.05,242.82 L68.46,244.43 L67.87,246.04 L67.27,247.65 L66.68,249.25 L66.09,250.85 L65.50,252.44 L64.90,254.02 L64.31,255.60 L63.72,257.18 L63.13,258.76 L62.53,260.35 L61.94,261.95 L61.35,263.58 L60.76,265.23 L60.16,266.91 L59.57,268.63 L58.98,270.41 L58.39,272.25 L57.79,274.17 L57.20,276.18 L56.61,278.30 L56.02,280.55 L55.42,282.95 L54.83,285.50 L54.24,288.18 L53.65,290.95 L53.05,293.77 L52.46,296.58 L51.87,299.33 L51.28,301.94 L50.68,304.29 L50.09,306.26 L49.50,307.70" stroke="#00f" stroke-dasharray="3.0 1.5" stroke-dashoffset="3.0"/>
<path d="M485.50,78.33 L484.09,78.33 L482.68,78.33 L481.27,78.33 L479.86,78.33 L478.44,78.33 L477.03,78.33 L475.62,78.34 L474.21,78.34 L472.80,78.34 L471.39,78.34 L469.98,78.35 L468.57,78.35 L467.15,78.35 L465.74,78.36 L464.33,78.36 L462.92,78.37 L461.51,78.37 L460.10,78.38 L458.69,78.38 L457.28,78.39 L455.86,78.40 L454.45,78.40 L453.04,78.41 L451.63,78.42 L450.22,78.43 L448.81,78.44 L447.40,78.45 L445.99,78.46 L444.58,78.47 L443.16,78.48 L441.75,78.49 L440.34,78.50 L438.93,78.51 L437.52,78.53 L436.11,78.54 L434.70,78.55 L433.29,78.57 L431.87,78.58 L430.46,78.60 L429.05,78.61 L427.64,78.63 L426.23,78.65 L424.82,78.66 L423.41,78.68 L422.00,78.70 L420.58,78.72 L419.17,78.74 L417.76,78.76 L416.35,78.78 L414.94,78.80 L413.53,78.82 L412.12,78.85 L410.71,78.87 L409.30,78.89 L407.88,78.92 L406.47,78.94 L405.06,78.97 L403.65,79.00 L402.24,79.02 L400.83,79.05 L399.42,79.08 L398.01,79.11 L396.59,79.14 L395.18,79.17 L393.77,79.20 L392.36,79.23 L390.95,79.27 L389.54,79.30 L388.13,79.33 L386.72,79.37 L385.31,79.40 L383.89,79.44 L382.48,79.48 L381.07,79.51 L379.66,79.55 L378.25,79.59 L376.84,79.63 L375.43,79.68 L374.02,79.72 L372.60,79.76 L371.19,79.80 L369.78,79.85 L368.37,79.89 L366.96,79.94 L365.55,79.99 L364.14,80.04 L362.73,80.09 L361.31,80.14 L359.90,80.19 L358.49,80.24 L357.08,80.29 L355.67,80.35 L354.26,80.40 L352.85,80.46 L351.44,80.52 L350.03,80.57 L348.61,80.63 L347.20,80.69 L345.79,80.76 L344.38,80.82 L342.97,80.88 L341.56,80.95 L340.15,81.01 L338.74,81.08 L337.32,81.15 L335.91,81.22 L334.50,81.29 L333.09,81.36 L331.68,81.43 L330.27,81.51 L328.86,81.58 L327.45,81.66 L326.03,81.74 L324.62,81.82 L323.21,81.90 L321.80,81.98 L320.39,82.07 L318.98,82.15 L317.57,82.24 L316.16,82.33 L314.75,82.42 L313.33,82.51 L311.92,82.61 L310.51,82.70 L309.10,82.80 L307.69,82.89 L306.28,82.99 L304.87,83.09 L303.46,83.20 L302.04,83.30 L300.63,83.41 L299.22,83.52 L297.81,83.63 L296.40,83.74 L294.99,83.85 L293.58,83.97 L292.17,84.09 L290.75,84.20 L289.34,84.33 L287.93,84.45 L286.52,84.58 L285.11,84.70 L283.70,84.84 L282.29,84.97 L280.88,85.10 L279.47,85.24 L278.05,85.39 L276.64,85.53 L275.23,85.68 L273.82,85.83 L272.41,85.98 L271.00,86.14 L269.59,86.30 L268.18,86.46 L266.76,86.63 L265.35,86.80 L263.94,86.98 L262.53,87.15 L261.12,87.34 L259.71,87.52 L258.30,87.72 L256.89,87.91 L255.47,88.11 L254.06,88.32 L252.65,88.53 L251.24,88.75 L249.83,88.97 L248.42,89.19 L247.01,89.43 L245.60,89.66 L244.19,89.90 L242.77,90.15 L241.36,90.41 L239.95,90.66 L238.54,90.93 L237.13,91.20 L235.72,91.48 L234.31,91.76 L232.90,92.05 L231.48,92.34 L230.07,92.64 L228.66,92.95 L227.25,93.26 L225.84,93.58 L224.43,93.91 L223.02,94.24 L221.61,94.59 L220.19,94.93 L218.78,95.29 L217.37,95.65 L215.96,96.02 L214.55,96.40 L213.14,96.78 L211.73,97.18 L210.32,97.58 L208.91,97.99 L207.49,98.40 L206.08,98.83 L204.67,99.26 L203.26,99.70 L201.85,100.15 L200.44,100.61 L199.03,101.08 L197.62,101.56 L196.20,102.05 L194.79,102.55 L193.38,103.05 L191.97,103.57 L190.56,104.10 L189.15,104.64 L187.74,105.19 L186.33,105.75 L184.92,106.32 L183.50,106.90 L182.09,107.50 L180.68,108.11 L179.27,108.73 L177.86,109.37 L176.45,110.02 L175.04,110.68 L173.63,111.36 L172.21,112.06 L170.80,112.77 L169.39,113.50 L167.98,114.24 L166.57,115.00 L165.16,115.78 L163.75,116.58 L162.34,117.40 L160.92,118.24 L159.51,119.10 L158.10,119.98 L156.69,120.88 L155.28,121.81 L153.87,122.76 L152.46,123.74 L151.05,124.74 L149.64,125.77 L148.22,126.82 L146.81,127.91 L145.40,129.02 L143.99,130.16 L142.58,131.33 L141.17,132.53 L139.76,133.76 L138.35,135.02 L136.93,136.31 L135.52,137.62 L134.11,138.97 L132.70,140.34 L131.29,141.74 L129.88,143.17 L128.47,144.63 L127.06,146.12 L125.64,147.63 L124.23,149.17 L122.82,150.74 L121.41,152.34 L120.00,153.96 L119.41,154.65 L118.82,155.35 L118.22,156.05 L117.63,156.76 L117.04,157.47 L116.45,158.19 L115.85,158.92 L115.26,159.66 L114.67,160.41 L114.08,161.16 L113.48,161.92 L112.89,162.69 L112.30,163.48 L111.71,164.27 L111.11,165.07 L110.52,165.88 L109.93,166.70 L109.34,167.54 L108.74,168.38 L108.15,169.24 L107.56,170.11 L106.97,170.99 L106.37,171.87 L105.78,172.78 L105.19,173.69 L104.60,174.61 L104.00,175.54 L103.41,176.49 L102.82,177.45 L102.23,178.42 L101.63,179.40 L101.04,180.39 L100.45,181.39 L99.86,182.41 L99.26,183.43 L98.67,184.47 L98.08,185.52 L97.49,186.58 L96.89,187.65 L96.30,188.74 L95.71,189.84 L95.12,190.94 L94.53,192.06 L93.93,193.19 L93.34,194.33 L92.75,195.49 L92.16,196.65 L91.56,197.82 L90.97,199.01 L90.38,200.21 L89.79,201.42 L89.19,202.63 L88.60,203.86 L88.01,205.11 L87.42,206.36 L86.82,207.62 L86.23,208.90 L85.64,210.19 L85.05,211.49 L84.45,212.80 L83.86,214.13 L83.27,215.46 L82.68,216.81 L82.08,218.17 L81.49,219.54 L80.90,220.93 L80.31,222.33 L79.71,223.74 L79.12,225.16 L78.53,226.60 L77.94,228.04 L77.34,229.50 L76.75,230.98 L76.16,232.46 L75.57,233.96 L74.97,235.47 L74.38,236.99 L73.79,238.53 L73.20,240.07 L72.61,241.63 L72.01,243.20 L71.42,244.78 L70.83,246.37 L70.24,247.97 L69.64,249.58 L69.05,251.21 L68.46,252.84 L67.87,254.48 L67.27,256.13 L66.68,257.79 L66.09,259.46 L65.50,261.14 L64.90,262.83 L64.31,264.53 L63.72,266.24 L63.13,267.97 L62.53,269.70 L61.94,271.45 L61.35,273.21 L60.76,274.98 L60.16,276.76 L59.57,278.56 L58.98,280.36 L58.39,282.19 L57.79,284.02 L57.20,285.87 L56.61,287.74 L56.02,289.62 L55.42,291.51 L54.83,293.42 L54.24,295.35 L53.65,297.30 L53.05,299.26 L52.46,301.24 L51.87,303.25 L51.28,305.27 L50.68,307.32 L50.09,309.39 L49.50,311.49" stroke="#0f0" stroke-dasharray="3.0 1.5" stroke-dashoffset="3.0"/>
</g>
<g stroke="#000" stroke-width="1" fill="none">
<path d="M49.50,29.00 L485.50,29.00 L485.50,319.00 L49.50,319.00 Z"/>
</g>
<g stroke="#000" stroke-width="1" fill="none">
<path d="M49.50,319.00 v-4.60 M49.50,29.00 v4.60"/>
<path d="M136.70,319.00 v-4.60 M136.70,29.00 v4.60"/>
<path d="M223.90,319.00 v-4.60 M223.90,29.00 v4.60"/>
<path d="M311.10,319.00 v-4.60 M311.10,29.00 v4.60"/>
<path d="M398.30,319.00 v-4.60 M398.30,29.00 v4.60"/>
<path d="M485.50,319.00 v-4.60 M485.50,29.00 v4.60"/>
<path d="M49.50,319.00 h4.60 M485.50,319.00 h-4.60" stroke-opacity="0.35"/>
<path d="M49.50,270.67 h4.60 M485.50,270.67 h-4.60"/>
<path d="M49.50,222.33 h4.60 M485.50,222.33 h-4.60"/>
<path d="M49.50,174.00 h4.60 M485.50,174.00 h-4.60"/>
<path d="M49.50,125.67 h4.60 M485.50,125.67 h-4.60"/>
<path d="M49.50,77.33 h4.60 M485.50,77.33 h-4.60"/>
<path d="M49.50,29.00 h4.60 M485.50,29.00 h-4.60" stroke-opacity="0.35"/>
</g>
<text x="44.1" y="321.75" text-anchor="end">0.5</text>
<text x="44.1" y="274.02" text-anchor="end">0.6</text>
<text x="44.1" y="225.68" text-anchor="end">0.7</text>
<text x="44.1" y="177.35" text-anchor="end">0.8</text>
<text x="44.1" y="129.02" text-anchor="end">0.9</text>
<text x="44.1" y="80.68" text-anchor="end">1</text>
<text x="44.1" y="32.35" text-anchor="end">1.1</text>
<text x="50.80" y="331.7" text-anchor="middle">0</text>
<text x="138.00" y="331.7" text-anchor="middle">1</text>
<text x="225.20" y="331.7" text-anchor="middle">2</text>
<text x="312.40" y="331.7" text-anchor="middle">3</text>
<text x="399.60" y="331.7" text-anchor="middle">4</text>
<text x="486.80" y="331.7" text-anchor="middle">5</text>
<text x="267.5" y="17.6" text-anchor="middle">k = 0.1 h/Mpc</text>
<text x="267.5" y="346.4" text-anchor="middle">z</text>
<text x="439.60" y="244.65" text-anchor="end">f(z): B<tspan class="sub" dy="2.1">1</tspan><tspan dy="-2.1" dx="-0.4"> =</tspan><tspan dx="-1"> 1.1</tspan></text>
<path d="M446,241.60 H473.6" stroke="#000" stroke-width="1.25" fill="none"/>
<text x="439.60" y="254.38" text-anchor="end">f(z): B<tspan class="sub" dy="2.1">1</tspan><tspan dy="-2.1" dx="-0.4"> =</tspan><tspan dx="-1"> 1.45</tspan></text>
<path d="M446,251.33 H473.6" stroke="#f00" stroke-width="1.25" fill="none"/>
<text x="439.60" y="264.11" text-anchor="end">f(z): B<tspan class="sub" dy="2.1">1</tspan><tspan dy="-2.1" dx="-0.4"> =</tspan><tspan dx="-1"> 2.5</tspan></text>
<path d="M446,261.06 H473.6" stroke="#00f" stroke-width="1.25" fill="none"/>
<text x="439.60" y="273.84" text-anchor="end">f(z): B<tspan class="sub" dy="2.1">1</tspan><tspan dy="-2.1" dx="-0.4"> =</tspan><tspan dx="-1"> 5</tspan></text>
<path d="M446,270.79 H473.6" stroke="#0f0" stroke-width="1.25" fill="none"/>
<text x="439.60" y="283.57" text-anchor="end">Best-fit Ω<tspan class="sup" dy="-4.6">γ</tspan><tspan dy="4.6">: B</tspan><tspan class="sub" dy="2.1">1</tspan><tspan dy="-2.1" dx="-0.4"> =</tspan><tspan dx="-1"> 1.1</tspan></text>
<path d="M446,280.52 H473.6" stroke="#000" stroke-width="1.25" fill="none" stroke-dasharray="2.78 1.39"/>
<text x="439.60" y="293.30" text-anchor="end">Best-fit Ω<tspan class="sup" dy="-4.6">γ</tspan><tspan dy="4.6">: B</tspan><tspan class="sub" dy="2.1">1</tspan><tspan dy="-2.1" dx="-0.4"> =</tspan><tspan dx="-1"> 1.45</tspan></text>
<path d="M446,290.25 H473.6" stroke="#f00" stroke-width="1.25" fill="none" stroke-dasharray="2.78 1.39"/>
<text x="439.60" y="303.03" text-anchor="end">Best-fit Ω<tspan class="sup" dy="-4.6">γ</tspan><tspan dy="4.6">: B</tspan><tspan class="sub" dy="2.1">1</tspan><tspan dy="-2.1" dx="-0.4"> =</tspan><tspan dx="-1"> 2.5</tspan></text>
<path d="M446,299.98 H473.6" stroke="#00f" stroke-width="1.25" fill="none" stroke-dasharray="2.78 1.39"/>
<text x="439.60" y="312.76" text-anchor="end">Best-fit Ω<tspan class="sup" dy="-4.6">γ</tspan><tspan dy="4.6">: B</tspan><tspan class="sub" dy="2.1">1</tspan><tspan dy="-2.1" dx="-0.4"> =</tspan><tspan dx="-1"> 5</tspan></text>
<path d="M446,309.71 H473.6" stroke="#0f0" stroke-width="1.25" fill="none" stroke-dasharray="2.78 1.39"/>
</svg></body></html>
